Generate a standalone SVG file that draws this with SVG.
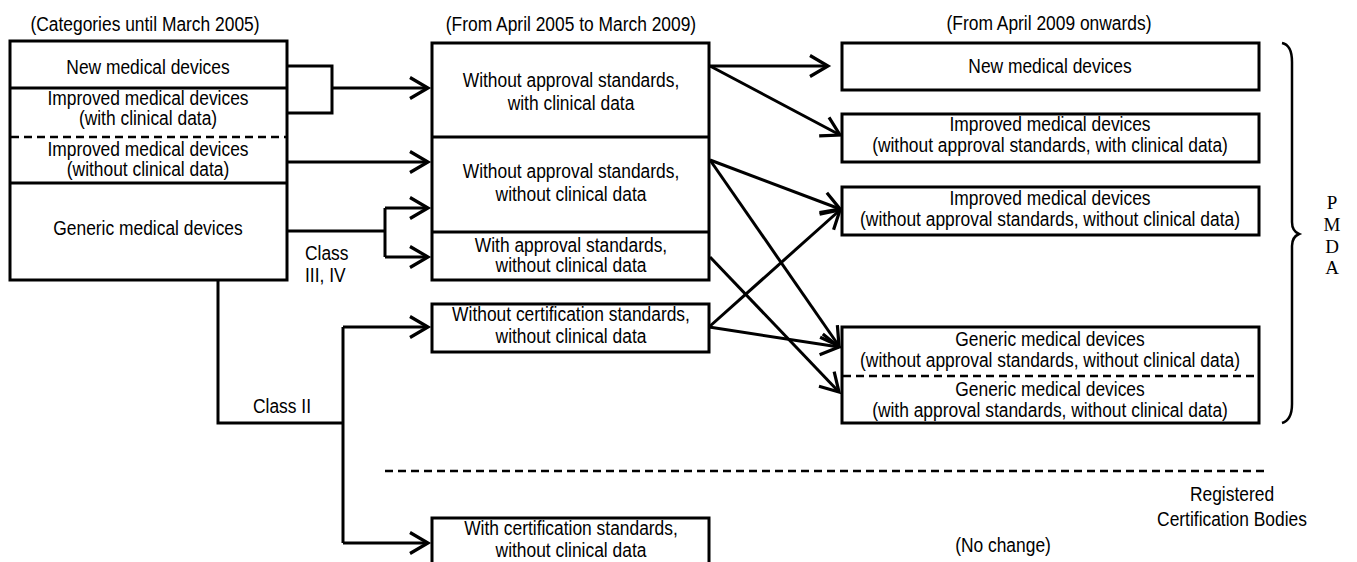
<svg xmlns="http://www.w3.org/2000/svg" width="1357" height="562" viewBox="0 0 1357 562">
  <style>
    text { font-family: "Liberation Sans", Arial, sans-serif; font-size: 20px; fill: #000; }
    .c { text-anchor: middle; }
    .s { text-anchor: start; }
    .serif { font-family: "Liberation Serif", "Times New Roman", serif; font-size: 19px; text-anchor: middle; }
    .box { fill: #fff; stroke: #000; stroke-width: 3; }
    .sep { stroke: #000; stroke-width: 3; fill: none; }
    .dash { stroke: #000; stroke-width: 2.5; stroke-dasharray: 8 5; fill: none; }
    .wire { stroke: #000; stroke-width: 3; fill: none; }
    .arrow { stroke: #000; stroke-width: 3; fill: none; marker-end: url(#ah); }
    .brace { stroke: #000; stroke-width: 2.5; fill: none; }
  </style>
  <defs>
    <marker id="ah" markerUnits="userSpaceOnUse" markerWidth="26" markerHeight="26" viewBox="-22 -13 26 26" refX="0" refY="0" orient="auto">
      <path d="M-18,-10.5 L0,0 L-18,10.5" fill="none" stroke="#000" stroke-width="3.2" stroke-linejoin="miter"/>
    </marker>
  </defs>

  <!-- column headings -->
  <g id="headings">
    <text class="c" x="0" y="31" transform="translate(145 0) scale(0.87 1)">(Categories until March 2005)</text>
    <text class="c" x="0" y="31" transform="translate(571 0) scale(0.87 1)">(From April 2005 to March 2009)</text>
    <text class="c" x="0" y="30" transform="translate(1049 0) scale(0.87 1)">(From April 2009 onwards)</text>
  </g>

  <!-- connectors -->
  <g id="connectors">
    <!-- new / improved (with clinical data) merge -->
    <path class="wire" d="M287,66 H332 V113 H287"/>
    <path class="arrow" d="M332,88 H428"/>
    <path class="arrow" d="M287,162 H428"/>
    <!-- generic, class III/IV -->
    <path class="wire" d="M287,231 H385"/>
    <path class="wire" d="M385,208 V257"/>
    <path class="arrow" d="M385,208 H428"/>
    <path class="arrow" d="M385,257 H428"/>
    <!-- generic, class II -->
    <path class="wire" d="M218,280 V423 H343"/>
    <path class="wire" d="M343,327 V543"/>
    <path class="arrow" d="M343,327 H428"/>
    <path class="arrow" d="M343,543 H428"/>
    <!-- transitions to the 2009 categories -->
    <path class="arrow" d="M710,66 H828"/>
    <path class="arrow" d="M710,66 L840,135"/>
    <path class="arrow" d="M710,160 L840,209"/>
    <path class="arrow" d="M710,160 L839,346"/>
    <path class="arrow" d="M710,257 L839,392"/>
    <path class="arrow" d="M709,327 L840,210"/>
    <path class="arrow" d="M709,327 L839,347"/>
  </g>

  <!-- categories until March 2005 -->
  <g id="old-categories">
    <rect class="box" x="10" y="41" width="277" height="239"/>
    <line class="sep" x1="10" y1="88" x2="287" y2="88"/>
    <line class="dash" x1="11" y1="137" x2="286" y2="137"/>
    <line class="sep" x1="10" y1="183" x2="287" y2="183"/>
    <text class="c" x="0" y="74" transform="translate(148 0) scale(0.87 1)">New medical devices</text>
    <text class="c" x="0" y="105" transform="translate(148 0) scale(0.87 1)">Improved medical devices</text>
    <text class="c" x="0" y="125" transform="translate(148 0) scale(0.87 1)">(with clinical data)</text>
    <text class="c" x="0" y="156" transform="translate(148 0) scale(0.87 1)">Improved medical devices</text>
    <text class="c" x="0" y="176" transform="translate(148 0) scale(0.87 1)">(without clinical data)</text>
    <text class="c" x="0" y="235" transform="translate(148 0) scale(0.87 1)">Generic medical devices</text>
  </g>

  <g id="class-labels">
    <text class="s" x="0" y="260" transform="translate(305 0) scale(0.87 1)">Class</text>
    <text class="s" x="0" y="282" transform="translate(305 0) scale(0.87 1)">III, IV</text>
    <text class="s" x="0" y="413" transform="translate(253 0) scale(0.87 1)">Class II</text>
  </g>

  <!-- April 2005 to March 2009 -->
  <g id="interim-categories">
    <rect class="box" x="432" y="43" width="277" height="237"/>
    <line class="sep" x1="432" y1="137" x2="709" y2="137"/>
    <line class="sep" x1="432" y1="232" x2="709" y2="232"/>
    <text class="c" x="0" y="87" transform="translate(571 0) scale(0.87 1)">Without approval standards,</text>
    <text class="c" x="0" y="110" transform="translate(571 0) scale(0.87 1)">with clinical data</text>
    <text class="c" x="0" y="178" transform="translate(571 0) scale(0.87 1)">Without approval standards,</text>
    <text class="c" x="0" y="201" transform="translate(571 0) scale(0.87 1)">without clinical data</text>
    <text class="c" x="0" y="252" transform="translate(571 0) scale(0.87 1)">With approval standards,</text>
    <text class="c" x="0" y="272" transform="translate(571 0) scale(0.87 1)">without clinical data</text>
  </g>

  <g id="without-certification">
    <rect class="box" x="432" y="304" width="277" height="48"/>
    <text class="c" x="0" y="321" transform="translate(571 0) scale(0.87 1)">Without certification standards,</text>
    <text class="c" x="0" y="343" transform="translate(571 0) scale(0.87 1)">without clinical data</text>
  </g>

  <g id="with-certification">
    <rect class="box" x="432" y="518" width="277" height="60"/>
    <text class="c" x="0" y="535" transform="translate(571 0) scale(0.87 1)">With certification standards,</text>
    <text class="c" x="0" y="557" transform="translate(571 0) scale(0.87 1)">without clinical data</text>
  </g>

  <!-- from April 2009 -->
  <g id="new-devices">
    <rect class="box" x="842" y="43" width="417" height="47"/>
    <text class="c" x="0" y="73" transform="translate(1050 0) scale(0.87 1)">New medical devices</text>
  </g>
  <g id="improved-with-data">
    <rect class="box" x="842" y="114" width="417" height="48"/>
    <text class="c" x="0" y="131" transform="translate(1050 0) scale(0.87 1)">Improved medical devices</text>
    <text class="c" x="0" y="152" transform="translate(1050 0) scale(0.87 1)">(without approval standards, with clinical data)</text>
  </g>
  <g id="improved-without-data">
    <rect class="box" x="842" y="187" width="417" height="48"/>
    <text class="c" x="0" y="205" transform="translate(1050 0) scale(0.87 1)">Improved medical devices</text>
    <text class="c" x="0" y="226" transform="translate(1050 0) scale(0.87 1)">(without approval standards, without clinical data)</text>
  </g>
  <g id="generic-devices">
    <rect class="box" x="842" y="327" width="417" height="96"/>
    <line class="dash" x1="843" y1="376" x2="1258" y2="376"/>
    <text class="c" x="0" y="346" transform="translate(1050 0) scale(0.87 1)">Generic medical devices</text>
    <text class="c" x="0" y="367" transform="translate(1050 0) scale(0.87 1)">(without approval standards, without clinical data)</text>
    <text class="c" x="0" y="396" transform="translate(1050 0) scale(0.87 1)">Generic medical devices</text>
    <text class="c" x="0" y="417" transform="translate(1050 0) scale(0.87 1)">(with approval standards, without clinical data)</text>
  </g>

  <!-- PMDA bracket -->
  <g id="pmda">
    <path class="brace" d="M1282,43 Q1292,45 1292,62 L1292,222 Q1292,231 1299,234 Q1292,237 1292,246 L1292,404 Q1292,420 1282,423"/>
    <text class="serif" x="1332" y="209">P</text>
    <text class="serif" x="1332" y="231">M</text>
    <text class="serif" x="1332" y="253">D</text>
    <text class="serif" x="1332" y="274">A</text>
  </g>

  <!-- boundary between PMDA and certification bodies -->
  <g id="boundary">
    <line class="dash" x1="385" y1="471" x2="1268" y2="471"/>
    <text class="c" x="0" y="501" transform="translate(1232 0) scale(0.87 1)">Registered</text>
    <text class="c" x="0" y="526" transform="translate(1232 0) scale(0.87 1)">Certification Bodies</text>
    <text class="c" x="0" y="552" transform="translate(1003 0) scale(0.87 1)">(No change)</text>
  </g>
</svg>
